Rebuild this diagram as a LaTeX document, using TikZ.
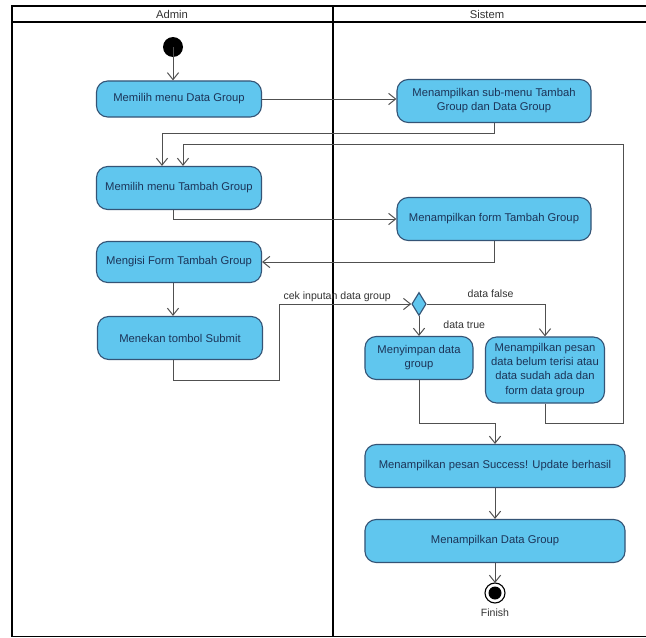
\documentclass[tikz,border=0pt]{standalone}
\usepackage{fontspec}
\setmainfont{Liberation Sans}
\usetikzlibrary{shapes.geometric,arrows.meta,calc}
\definecolor{actfill}{RGB}{96,198,238}
\definecolor{actdraw}{RGB}{52,84,118}
\definecolor{acttext}{RGB}{28,52,88}
\definecolor{flowline}{RGB}{80,80,80}
\begin{document}
\begin{tikzpicture}[x = 0.025cm, y = -0.025cm,
    act/.style = {draw=actdraw, fill=actfill, line width=0.8pt, rounded corners=8pt, align=center, text=acttext, font=\fontsize{8}{10}\selectfont, minimum width=4.125cm, minimum height=1.075cm, inner sep=2pt},
    flow/.style = {draw=flowline, line width=0.7pt, -{Straight Barb[length=5pt,width=8pt]}},
    lbl/.style = {font=\fontsize{7.5}{9}\selectfont, text=black!80, inner sep=1pt}]
    \useasboundingbox (0,0) rectangle (646,638);
    \fill [white] (0,0) rectangle (646,638);
    \draw [line width=1.1pt] (646,6) -- (12,6) -- (12,636.5) -- (646,636.5);
    \draw [line width=1.6pt] (12,22) -- (646,22);
    \draw [line width=1.1pt] (333,6) -- (333,636.5);
    \node [lbl, font=\fontsize{8}{10}\selectfont] (admin) at (172,14) {Admin};
    \node [lbl, font=\fontsize{8}{10}\selectfont] (sistem) at (487,14) {Sistem};
    \fill [color=black] (173,47) circle (10) coordinate (start);
    \node [act, minimum height=0.9cm] (A1) at (179,99) {Memilih menu Data Group};
    \node [act] (A2) at (179,188) {Memilih menu Tambah Group};
    \node [act, minimum height=1.025cm] (A3) at (179,262) {Mengisi Form Tambah Group};
    \node [act] (A4) at (180,338) {Menekan tombol Submit};
    \node [act, minimum width=4.85cm] (S1) at (494,101) {Menampilkan sub-menu Tambah\\Group dan Data Group};
    \node [act, minimum width=4.85cm] (S2) at (494,219) {Menampilkan form Tambah Group};
    \node [diamond, draw=actdraw, fill=actfill, line width=0.8pt, minimum width=0.36cm, minimum height=0.58cm, inner sep=0pt] (dec) at (419,304) {};
    \node [act, minimum width=2.7cm] (S3) at (419,358) {Menyimpan data\\group};
    \node [act, minimum width=2.975cm, minimum height=1.65cm] (S4) at (545,370) {Menampilkan pesan\\data belum terisi atau\\data sudah ada dan\\form data group};
    \node [act, minimum width=6.5cm] (S5) at (495,466) {Menampilkan pesan Success! Update berhasil};
    \node [act, minimum width=6.5cm] (S6) at (495,541) {Menampilkan Data Group};
    \draw [line width=0.8pt] (495,593) circle (10);
    \fill [color=black] (495,593) circle (6.5);
    \coordinate (fin) at (495,583);
    \node [lbl] (finish) at (495,613) {Finish};
    \coordinate (loopR) at (623,144);
    \draw [flow] (start) -- (start |- A1.north);
    \draw [flow] (A1.east) -- (A1.east -| S1.west);
    \draw [flow] (S1.south) -- ++(0,10) -| ($(A2.north)+(-17,0)$);
    \draw [flow] (S4.south) -- ++(0,20) -| (loopR) -| ($(A2.north)+(4,0)$);
    \draw [flow] (A2.south -| start) |- (S2.west);
    \draw [flow] (S2.south) |- (A3.east);
    \draw [flow] (A3.south -| start) -- (start |- A4.north);
    \draw [flow] (A4.south -| start) -- ++(0,20) -- ++(106,0) |- (dec.west) node [lbl, above, pos=0.72] {cek inputan data group};
    \draw [flow] (dec.south) -- (S3.north) node [lbl, right, pos=0.45, xshift=16pt] {data true};
    \draw [flow] (dec.east) -| (S4.north) node [lbl, above, pos=0.27, yshift=3pt] {data false};
    \draw [flow] (S3.south) -- ++(0,43) -| (S5.north);
    \draw [flow] (S5.south) -- (S6.north);
    \draw [flow] (S6.south) -- (fin);
\end{tikzpicture}
\end{document}
